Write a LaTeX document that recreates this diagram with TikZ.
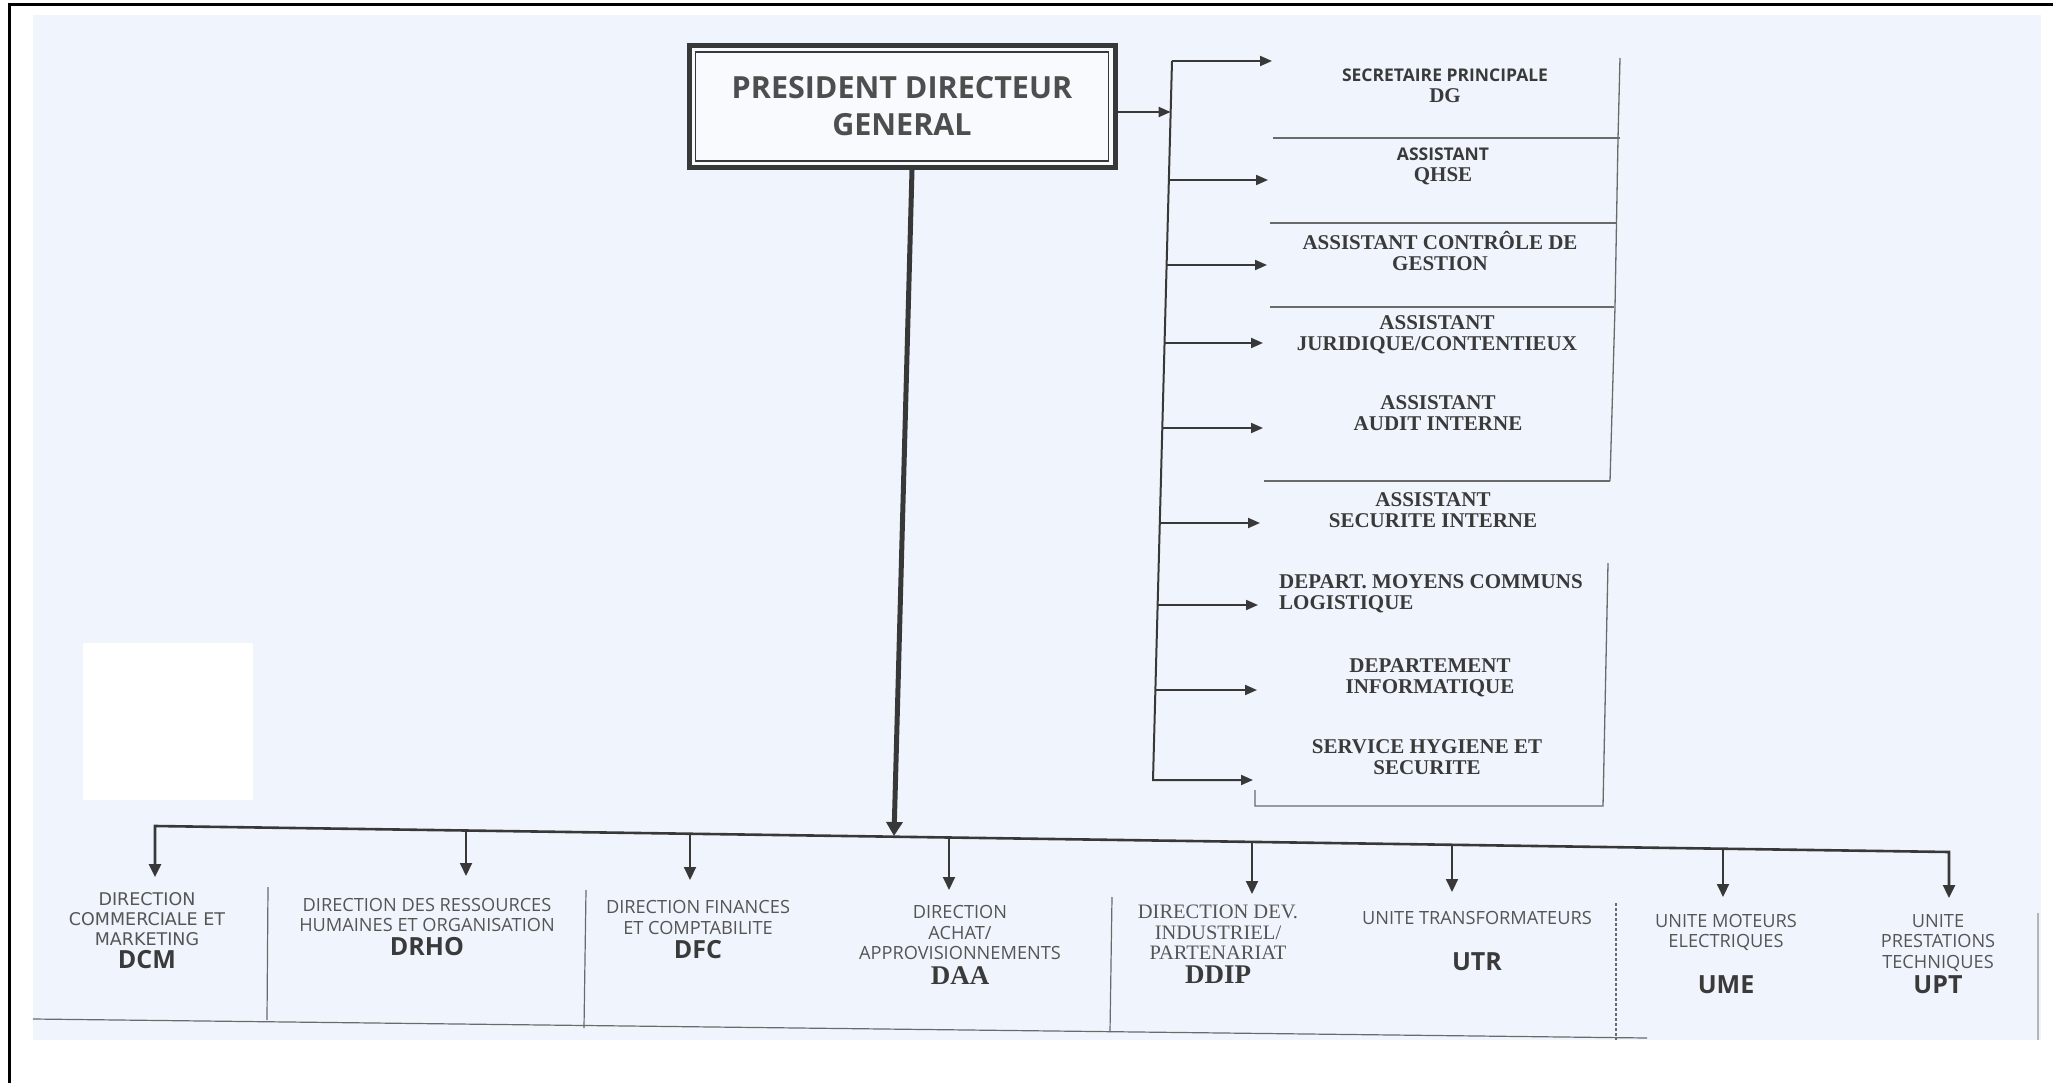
\documentclass[tikz,border=0pt]{standalone}
\usepackage{fontspec}
\setmainfont{Liberation Serif}
\newfontfamily\osans{Open Sans}
\newfontfamily\dsans{DejaVu Sans}
\usetikzlibrary{arrows.meta,calc}
\definecolor{scanbg}{HTML}{F0F5FD}
\definecolor{lcol}{HTML}{383838}
\definecolor{fcol}{HTML}{6A6A6A}
\definecolor{rgray}{HTML}{3A3A3A}
\definecolor{bgray}{HTML}{555555}
\newcommand\rfont{\bfseries\fontsize{21}{21}\selectfont}
\newcommand\rsans{\osans\bfseries\fontsize{17.5}{21}\selectfont}
\newcommand\bfnt{\osans\fontsize{18.2}{20.5}\selectfont}
\newcommand\dcmfnt{\dsans\fontsize{17.5}{20}\selectfont}
\newcommand\bsrf{\rmfamily\fontsize{20.5}{20.5}\selectfont}
\newcommand\myacr{\osans\bfseries\fontsize{25}{25}\selectfont\color{rgray}}
\newcommand\srfacr{\rmfamily\bfseries\fontsize{27}{27}\selectfont\color{rgray}}
\begin{document}
\begin{tikzpicture}[x=1pt,y=-1pt,
  pdgbox/.style={draw=lcol, line width=5pt, fill=scanbg!50!white, minimum width=426pt, minimum height=122pt, inner sep=0pt, align=center, text=rgray!90!white, font=\osans\bfseries\fontsize{30.5}{37}\selectfont},
  rtxt/.style={inner sep=0pt, align=center, font=\rfont, text=rgray},
  btxt/.style={inner sep=0pt, align=center, font=\bfnt, text=bgray},
  arr/.style={draw=lcol, line width=2pt, line join=miter, -{Triangle[length=12pt,width=10pt]}},
  darr/.style={draw=lcol, line width=2pt, -{Triangle[length=13pt,width=12pt]}},
  busline/.style={draw=lcol, line width=2.6pt, {Triangle[length=13pt,width=12pt]}-{Triangle[length=13pt,width=12pt]}},
  trunkline/.style={draw=lcol, line width=5pt, -{Triangle[length=14pt,width=16pt]}},
  frameline/.style={draw=fcol, line width=1.3pt},
  sepline/.style={draw=fcol, line width=1.2pt}
]
\useasboundingbox (0,0) rectangle (2053,1083);
\fill[white] (0,0) rectangle (2053,1083);
\fill[scanbg] (33,15) rectangle (2041,1040);
\fill[white] (83,643) rectangle (253,800);
\draw[line width=3pt, black] (9,1083) -- (9,5) -- (2053,5);

% top box
\node[pdgbox] (pdg) at (902,106.5) {PRESIDENT DIRECTEUR\\GENERAL};
\draw[draw=lcol, line width=1.5pt] ([shift={(9,9)}]pdg.north west) rectangle ([shift={(-9,-9)}]pdg.south east);

% right column bus
\coordinate (rb1) at (1172,61);
\coordinate (rbp) at (1170.6,112);
\coordinate (rb2) at (1168.8,180);
\coordinate (rb3) at (1166.6,265);
\coordinate (rb4) at (1164.5,343);
\coordinate (rb5) at (1162.3,428);
\coordinate (rb6) at (1159.8,523);
\coordinate (rb7) at (1157.6,605);
\coordinate (rb8) at (1155.4,690);
\coordinate (rb9) at (1153,780);
\coordinate (rt1) at (1272,61);
\coordinate (rt2) at (1268,180);
\coordinate (rt3) at (1267,265);
\coordinate (rt4) at (1263,343);
\coordinate (rt5) at (1263,428);
\coordinate (rt6) at (1260,523);
\coordinate (rt7) at (1258,605);
\coordinate (rt8) at (1257,690);
\coordinate (rt9) at (1253,780);

\draw[arr] (pdg.east |- rbp) -- (rbp);
\draw[arr] (rb1) -- (rb9) -- (rt9);
\draw[arr] (rb1) -- (rt1);
\foreach \i in {2,...,8} {\draw[arr] (rb\i) -- (rt\i);}

% right column frames
\draw[frameline] (1620,58) -- (1618,138) -- (1615,307) -- (1610,481);
\draw[frameline] (1273,138) -- (1620,138);
\draw[frameline] (1270,223) -- (1617,223);
\draw[frameline] (1270,307) -- (1614,307);
\draw[frameline] (1264,481) -- (1610,481);
\draw[frameline] (1255,790) -- (1255,806) -- (1603,806) -- (1608,563);

% right column texts
\node[rtxt] (sp) at (1445,86) {{\rsans SECRETAIRE PRINCIPALE}\\DG};
\node[rtxt] (qhse) at (1443,166.5) {{\rsans ASSISTANT}\\QHSE};
\node[rtxt] (acg) at (1440,251) {ASSISTANT CONTRÔLE DE\\GESTION};
\node[rtxt] (ajc) at (1437,335) {ASSISTANT\\JURIDIQUE/CONTENTIEUX};
\node[rtxt] (aai) at (1438,413.5) {ASSISTANT\\AUDIT INTERNE};
\node[rtxt] (asi) at (1433,510) {ASSISTANT\\SECURITE INTERNE};
\node[rtxt, align=left, anchor=west] (dmc) at (1279,594) {DEPART. MOYENS COMMUNS\\LOGISTIQUE};
\node[rtxt] (dinf) at (1430,678) {DEPARTEMENT\\INFORMATIQUE};
\node[rtxt] (shs) at (1427,757) {SERVICE HYGIENE ET\\SECURITE};

% trunk and bottom bus
\coordinate (tb) at (894,836);
\draw[trunkline] ([xshift=10pt]pdg.south) -- (tb);

\coordinate (bb1) at (155,826);
\coordinate (bb2) at (466,830.5);
\coordinate (bb3) at (690,833.8);
\coordinate (bb4) at (949,837.5);
\coordinate (bb5) at (1252,841.9);
\coordinate (bb6) at (1452,844.8);
\coordinate (bb7) at (1723,848.7);
\coordinate (bb8) at (1949,852);
\coordinate (bt1) at (155,877);
\coordinate (bt2) at (466,876);
\coordinate (bt3) at (690,880);
\coordinate (bt4) at (949,890);
\coordinate (bt5) at (1252,894);
\coordinate (bt6) at (1452,892);
\coordinate (bt7) at (1723,897);
\coordinate (bt8) at (1949,898);

\draw[busline] (bt1) -- (bb1) -- (bb8) -- (bt8);
\foreach \i in {2,...,7} {\draw[darr] (bb\i) -- (bt\i);}

% bottom separators
\draw[sepline] (268,887) -- (267,1020);
\draw[sepline] (586,890) -- (584,1028);
\draw[sepline] (1112,897) -- (1110,1032);
\draw[sepline, densely dashed] (1616,903) -- (1616,1040);
\draw[sepline, draw=fcol!50] (2038,913) -- (2038,1040);
\draw[sepline] (33,1019) -- (1647,1038);

% bottom texts
\node[btxt, font=\dcmfnt] (dcm) at (147,931) {DIRECTION\\COMMERCIALE ET\\MARKETING\\[3pt]{\myacr DCM}};
\node[btxt] (drho) at (427,927) {DIRECTION DES RESSOURCES\\HUMAINES ET ORGANISATION\\[3pt]{\myacr DRHO}};
\node[btxt] (dfc) at (698,930) {DIRECTION FINANCES\\ET COMPTABILITE\\[4pt]{\myacr DFC}};
\node[btxt] (daa) at (960,945) {DIRECTION\\ACHAT/\\APPROVISIONNEMENTS\\[4pt]{\srfacr DAA}};
\node[btxt, font=\bsrf] (ddip) at (1218,944) {DIRECTION DEV.\\INDUSTRIEL/\\PARTENARIAT\\[3pt]{\srfacr DDIP}};
\node[btxt] (utr) at (1477,941) {UNITE TRANSFORMATEURS\\[25pt]{\myacr UTR}};
\node[btxt] (ume) at (1726,954) {UNITE MOTEURS\\ELECTRIQUES\\[24pt]{\myacr UME}};
\node[btxt] (upt) at (1938,954) {UNITE\\PRESTATIONS\\TECHNIQUES\\[3pt]{\myacr UPT}};
\end{tikzpicture}
\end{document}
